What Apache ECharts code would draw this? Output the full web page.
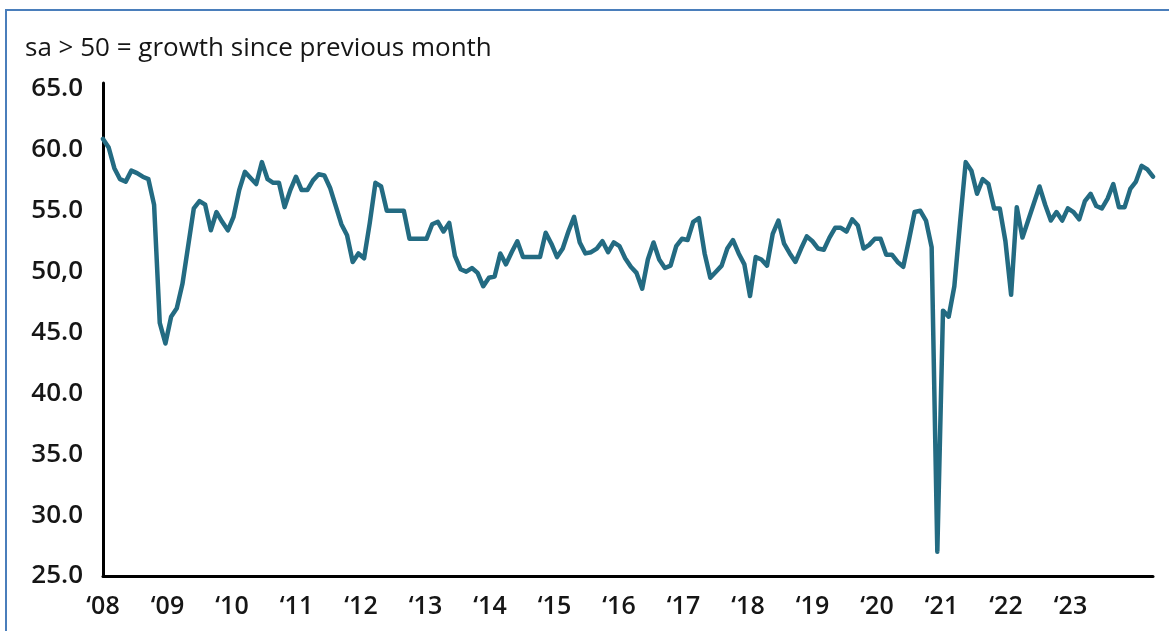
<!DOCTYPE html>
<html>
<head>
<meta charset="utf-8">
<title>sa &gt; 50 = growth since previous month</title>
<script src="https://cdn.jsdelivr.net/npm/echarts@6/dist/echarts.min.js"></script>
<style>
  html, body { margin: 0; padding: 0; background: #ffffff; }
  #chart { width: 1169px; height: 631px; }
</style>
</head>
<body>
<div id="chart"></div>
<script>
// Monthly diffusion index, Jan 2008 – Jun 2023 (seasonally adjusted, 50 = no change)
const indexValues = [
  60.9, 60.2, 58.5, 57.6, 57.4, 58.3, 58.1, 57.8, 57.6, 55.5, 45.8, 44.1,
  46.3, 47.0, 49.0, 52.1, 55.2, 55.8, 55.5, 53.4, 54.9, 54.1, 53.4, 54.5,
  56.7, 58.2, 57.7, 57.2, 59.0, 57.6, 57.3, 57.3, 55.3, 56.7, 57.8, 56.7,
  56.7, 57.5, 58.0, 57.9, 56.9, 55.4, 53.9, 53.0, 50.8, 51.5, 51.1, 54.0,
  57.3, 57.0, 55.0, 55.0, 55.0, 55.0, 52.7, 52.7, 52.7, 52.7, 53.9, 54.1,
  53.3, 54.0, 51.3, 50.2, 50.0, 50.3, 49.9, 48.8, 49.5, 49.6, 51.5, 50.6,
  51.6, 52.5, 51.2, 51.2, 51.2, 51.2, 53.2, 52.3, 51.2, 51.9, 53.3, 54.5,
  52.4, 51.5, 51.6, 51.9, 52.5, 51.6, 52.4, 52.1, 51.1, 50.4, 49.9, 48.6,
  51.0, 52.4, 51.0, 50.3, 50.5, 52.1, 52.7, 52.6, 54.1, 54.4, 51.5, 49.5,
  50.0, 50.5, 51.9, 52.6, 51.5, 50.6, 48.0, 51.2, 51.0, 50.5, 53.1, 54.2,
  52.3, 51.5, 50.8, 51.9, 52.9, 52.5, 51.9, 51.8, 52.8, 53.6, 53.6, 53.3,
  54.3, 53.8, 51.9, 52.2, 52.7, 52.7, 51.4, 51.4, 50.8, 50.4, 52.6, 54.9,
  55.0, 54.2, 52.0, 27.0, 46.8, 46.3, 48.8, 54.0, 59.0, 58.3, 56.4, 57.6,
  57.2, 55.2, 55.2, 52.5, 48.1, 55.3, 52.8, 54.2, 55.6, 57.0, 55.5, 54.2,
  54.9, 54.2, 55.2, 54.9, 54.3, 55.8, 56.4, 55.4, 55.2, 56.0, 57.2, 55.3,
  55.3, 56.8, 57.4, 58.7, 58.4, 57.8
];

// Value-axis tick labels (the 50 tick is printed with a decimal comma)
const yTickValues = [25, 30, 35, 40, 45, 50, 55, 60, 65];
const yTickLabels = ['25.0', '30.0', '35.0', '40.0', '45.0', '50,0', '55.0', '60.0', '65.0'];

// Year captions along the bottom
const yearLabels = ['\u201808', '\u201809', '\u201810', '\u201811', '\u201812', '\u201813', '\u201814', '\u201815',
                    '\u201816', '\u201817', '\u201818', '\u201819', '\u201820', '\u201821', '\u201822', '\u201823'];
const firstYear = 2008;

// Month categories, one per value
const monthCategories = indexValues.map((_, i) => {
  const y = firstYear + Math.floor(i / 12);
  const m = (i % 12) + 1;
  return y + '-' + (m < 10 ? '0' + m : m);
});

// Layout
const W = 1169, H = 631;
const gridLeft = 103, gridRight = 16, gridTop = 83, gridBottom = 55;
const plotWidth = W - gridLeft - gridRight;
const yearStepPx = 64.5;            // spacing of the year captions
const lineColor = '#236b82';
const frameColor = '#4a7ebb';
const textColor = '#161616';
const fontFamily = '"Open Sans", "Noto Sans", sans-serif';

const chart = echarts.init(document.getElementById('chart'), null, { renderer: 'canvas', width: W, height: H });

chart.setOption({
  animation: false,
  backgroundColor: '#ffffff',
  title: {
    text: 'sa > 50 = growth since previous month',
    left: 20,
    top: 31,
    textStyle: { fontFamily: fontFamily, fontSize: 26, fontWeight: 500, color: textColor }
  },
  grid: { left: gridLeft, right: gridRight, top: gridTop, bottom: gridBottom, containLabel: false },
  xAxis: [
    {
      type: 'category',
      data: monthCategories,
      boundaryGap: false,
      position: 'bottom',
      axisLine: { show: true, lineStyle: { color: '#000000', width: 3 } },
      axisTick: { show: false },
      axisLabel: { show: false },
      splitLine: { show: false }
    },
    {
      // evenly spaced year captions beneath the monthly axis
      type: 'value',
      position: 'bottom',
      min: firstYear,
      max: firstYear + plotWidth / yearStepPx,
      interval: 1,
      axisLine: { show: false },
      axisTick: { show: false },
      splitLine: { show: false },
      axisLabel: {
        margin: 18,
        fontFamily: fontFamily,
        fontSize: 25,
        fontWeight: 600,
        color: textColor,
        showMaxLabel: false,
        formatter: v => {
          const k = Math.round(v) - firstYear;
          return (Math.abs(v - Math.round(v)) < 1e-6 && yearLabels[k]) ? yearLabels[k] : '';
        }
      }
    }
  ],
  yAxis: {
    type: 'value',
    min: 25,
    max: 65.5,
    interval: 5,
    axisLine: { show: true, lineStyle: { color: '#000000', width: 3 } },
    axisTick: { show: false },
    splitLine: { show: false },
    axisLabel: {
      margin: 20,
      fontFamily: fontFamily,
      fontSize: 26,
      fontWeight: 600,
      color: textColor,
      formatter: v => {
        const k = yTickValues.indexOf(v);
        return k >= 0 ? yTickLabels[k] : '';
      }
    }
  },
  graphic: [
    { type: 'line', shape: { x1: 6, y1: 10, x2: 6, y2: H }, style: { stroke: frameColor, lineWidth: 2 }, silent: true },
    { type: 'line', shape: { x1: 5, y1: 10, x2: W, y2: 10 }, style: { stroke: frameColor, lineWidth: 2 }, silent: true }
  ],
  series: [
    {
      type: 'line',
      xAxisIndex: 0,
      yAxisIndex: 0,
      data: indexValues,
      symbol: 'none',
      smooth: false,
      lineStyle: { color: lineColor, width: 4.5, join: 'round', cap: 'round' }
    }
  ]
});
</script>
</body>
</html>
